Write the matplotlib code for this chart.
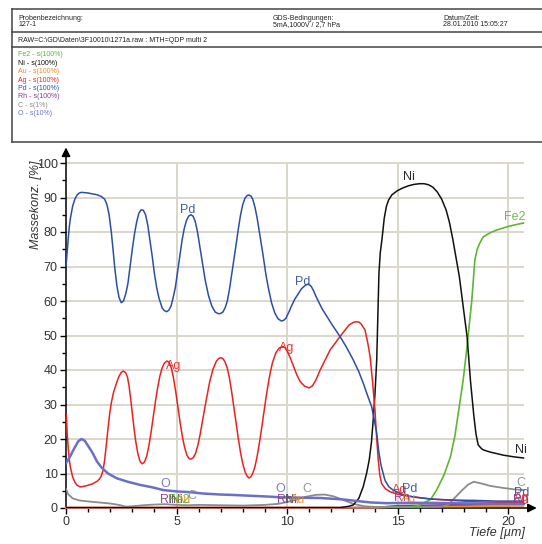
import matplotlib
matplotlib.use("Agg")
import matplotlib.pyplot as plt
from matplotlib.ticker import MultipleLocator

plt.rcParams['font.family'] = ['Liberation Sans', 'DejaVu Sans']

# ---- depth profile data (depth in µm, concentration in %) ----
pd_x = [0.0, 0.05, 0.1, 0.15, 0.2, 0.3, 0.4, 0.5, 0.6, 0.7, 1.0, 1.4, 1.6, 1.75, 1.85, 1.95, 2.05, 2.15,
        2.2, 2.3, 2.4, 2.5, 2.6, 2.7, 2.8, 2.9, 3.0, 3.1, 3.2, 3.3, 3.4, 3.5, 3.6, 3.7, 3.8, 3.9, 4.0,
        4.1, 4.2, 4.35, 4.45, 4.55, 4.65, 4.75, 4.85, 4.95, 5.05, 5.15, 5.25, 5.35, 5.45, 5.55, 5.65,
        5.75, 5.85, 5.95, 6.05, 6.15, 6.3, 6.45, 6.6, 6.75, 6.9, 7.0, 7.1, 7.2, 7.3, 7.4, 7.55, 7.7,
        7.8, 7.9, 8.0, 8.1, 8.2, 8.28, 8.37, 8.45, 8.55, 8.65, 8.75, 8.9, 9.05, 9.15, 9.3, 9.45, 9.6,
        9.75, 9.85, 9.95, 10.1, 10.2, 10.35, 10.5, 10.65, 10.8, 10.9, 11.0, 11.1, 11.2, 11.3, 11.45,
        11.6, 11.8, 12.0, 12.4, 12.7, 13.0, 13.25, 13.45, 13.65, 13.83, 13.95, 14.06, 14.15, 14.25,
        14.43, 14.6, 14.8, 15.2, 15.7, 16.5, 17.5, 18.5, 19.5, 20.7]
pd_y = [70, 74, 78, 81.5, 84, 87.5, 89.5, 90.7, 91.3, 91.5, 91.3, 90.8, 90.3, 89.5, 88, 85, 80, 73.5,
        70, 64.5, 61, 59.5, 60, 62, 65, 70, 75, 79.5, 83, 85.5, 86.4, 86.3, 85, 82, 77.5, 73, 68,
        64, 61, 58, 57.2, 56.9, 57.3, 58.5, 61, 64, 68.5, 73, 77.5, 81, 83.3, 84.6, 85,
        84.6, 83, 80, 76, 72, 66, 61.5, 58.5, 56.8, 56.3, 56.4, 56.8, 58, 60, 63.5, 70, 76.5,
        81, 85, 88, 89.8, 90.6, 90.7, 90.4, 89.5, 87.2, 84, 80, 74, 67.5, 64, 59.5, 56.5, 54.8,
        54.2, 54.4, 55, 57, 58.5, 60.5, 62, 63.5, 64.4, 64.8, 64.8, 64.2, 63, 61.5, 59.5,
        57.6, 55.6, 53.5, 49.7, 46.5, 42.9, 39.5, 36.2, 32.5, 29.4, 25.5, 21.7, 16.5, 12.5,
        8.1, 6.2, 5.2, 4.0, 3.2, 2.6, 2.3, 2.2, 2.0, 2.0]

ag_x = [0.02, 0.05, 0.1, 0.15, 0.2, 0.3, 0.4, 0.5, 0.65, 0.9, 1.2, 1.4, 1.5, 1.6, 1.68, 1.75, 1.82, 1.9,
        1.97, 2.05, 2.15, 2.3, 2.4, 2.5, 2.6, 2.7, 2.78, 2.85, 2.92, 3.0, 3.08, 3.15, 3.25, 3.35, 3.45,
        3.55, 3.65, 3.75, 3.85, 3.95, 4.05, 4.15, 4.25, 4.35, 4.45, 4.57, 4.67, 4.77, 4.87, 4.97, 5.07,
        5.17, 5.27, 5.37, 5.47, 5.57, 5.66, 5.76, 5.86, 5.96, 6.06, 6.2, 6.35, 6.5, 6.65, 6.8, 6.9,
        7.0, 7.1, 7.2, 7.3, 7.4, 7.5, 7.6, 7.7, 7.8, 7.9, 8.0, 8.1, 8.2, 8.28, 8.36, 8.45, 8.55,
        8.65, 8.75, 8.85, 8.95, 9.05, 9.15, 9.25, 9.35, 9.5, 9.65, 9.8, 9.9, 10.0, 10.15, 10.3,
        10.45, 10.6, 10.8, 11.0, 11.15, 11.3, 11.5, 11.95, 12.4, 12.8, 13.0, 13.12, 13.25, 13.35,
        13.53, 13.65, 13.76, 13.88, 13.98, 14.06, 14.13, 14.2, 14.28, 14.45, 14.66, 15.0, 15.4,
        16.5, 17.5, 18.5, 19.5, 20.7]
ag_y = [27, 22, 17.5, 14, 11.8, 9, 7.5, 6.6, 6.1, 6.4, 7.0, 7.7, 8.3, 9.3, 11, 14, 18, 23,
        27, 30.5, 33.5, 36.5, 38.2, 39.3, 39.7, 39.2, 38, 35.5, 32, 27.5, 23, 19.5, 15.8, 13.5, 12.8,
        13.3, 15, 18, 22, 26.5, 31, 35, 38.3, 40.6, 42, 42.6, 42.2, 40.5, 37.5, 33.5, 29,
        24.5, 20.5, 17.5, 15.3, 14.3, 14.2, 14.6, 15.8, 18, 21, 26, 31.5, 36.5, 40.2, 42.5, 43.3,
        43.6, 43.3, 42.3, 40.5, 37.5, 33.5, 29, 24.5, 20, 16, 12.8, 10.5, 9.2, 8.7, 9, 10, 12,
        15, 18.8, 23, 27.5, 32, 36, 39.5, 42.3, 45, 46.4, 46.8, 46.5, 45.6, 43.5, 41,
        38.5, 36.6, 35.3, 34.8, 35.4, 37, 40, 45.8, 49.7, 53, 53.8, 54, 53.9, 53.4,
        51.6, 48, 43.9, 36, 28.4, 20, 13.9, 9.5, 7.1, 5.6, 4.7, 4.0, 3.5,
        2.6, 2.2, 1.8, 1.6, 1.5]

ni_x = [0.0, 12.4, 12.8, 13.0, 13.25, 13.45, 13.6, 13.72, 13.82, 13.9, 13.98, 14.06, 14.12, 14.16,
        14.22, 14.3, 14.4, 14.5, 14.6, 14.75, 15.0, 15.25, 15.5, 15.75, 16.0, 16.2, 16.4, 16.6, 16.8,
        17.0, 17.2, 17.35, 17.5, 17.65, 17.8, 18.0, 18.15, 18.3, 18.45, 18.55, 18.65, 18.8, 18.9,
        19.2, 19.8, 20.3, 20.7]
ni_y = [0.1, 0.1, 0.5, 0.9, 2.8, 6.2, 10, 13.9, 19, 25.5, 33, 42.9, 58, 68,
        74, 78, 84, 87.5, 89.3, 90.8, 92, 92.8, 93.4, 93.8, 94.0, 94.0, 93.7, 93.0, 91.6,
        89.5, 86.4, 82.8, 78, 72.5, 67, 57, 49.6, 37, 27, 21.5, 18.3, 17.2, 16.8,
        16.2, 15.3, 14.8, 14.5]

fe_x = [0.0, 15.5, 16.0, 16.5, 16.77, 17.1, 17.4, 17.6, 17.75, 17.97, 18.13, 18.36, 18.5, 18.6, 18.7,
        18.88, 19.2, 19.5, 20.0, 20.4, 20.7]
fe_y = [0.0, 0.1, 0.8, 2.5, 5.2, 9.5, 14.9, 21, 27.5, 37, 45.8, 60, 71.9, 74.8, 76.5,
        78.6, 79.8, 80.6, 81.6, 82.2, 82.6]

o_x = [0.0, 0.15, 0.35, 0.55, 0.7, 0.85, 1.0, 1.2, 1.4, 1.6, 1.9, 2.3, 2.8, 3.35, 3.9, 4.4, 5.0, 5.6,
       6.2, 7.0, 7.5, 8.5, 9.2, 9.7, 10.5, 11.5, 12.5, 13.2, 13.8, 14.5, 15.5, 16.5, 17.5, 18.5, 19.5, 20.7]
o_y = [13, 14.5, 17, 19.3, 20, 19.5, 18, 16, 13.5, 11.8, 10, 8.6, 7.6, 6.7, 6.0, 5.2, 4.8, 4.6,
       4.2, 3.9, 3.8, 3.5, 3.3, 3.1, 3.0, 2.9, 2.5, 2.0, 1.6, 1.4, 1.5, 1.5, 1.4, 1.3, 1.2, 1.2]

c_x = [0.0, 0.1, 0.3, 0.6, 1.0, 1.5, 2.0, 2.4, 2.7, 3.0, 3.5, 4.0, 4.5, 5.0, 5.5, 6.0, 7.0, 8.0, 9.0,
       9.6, 10.2, 10.8, 11.3, 11.7, 12.1, 12.6, 13.0, 13.5, 14.0, 15.0, 16.0, 17.0, 17.3, 17.6, 17.9,
       18.2, 18.45, 18.8, 19.2, 19.8, 20.3, 20.7]
c_y = [5.5, 4.0, 2.8, 2.2, 1.9, 1.6, 1.3, 0.9, 0.4, 0.5, 0.8, 1.0, 1.1, 0.9, 0.8, 0.9, 0.8, 0.7, 0.9,
       1.2, 2.0, 3.2, 3.8, 3.9, 3.4, 2.2, 1.2, 0.5, 0.3, 0.3, 0.3, 0.4, 1.0, 3.0, 5.0,
       6.8, 7.6, 7.1, 6.4, 5.8, 5.4, 5.2]

rh_x = [0.0, 14.0, 15.0, 17.0, 19.0, 20.7]
rh_y = [0.05, 0.05, 0.6, 0.8, 1.0, 1.2]

au_x = [0.0, 14.0, 15.0, 17.0, 19.0, 20.7]
au_y = [0.1, 0.1, 0.3, 0.4, 0.5, 0.6]

yticks = [0, 10, 20, 30, 40, 50, 60, 70, 80, 90, 100]
xticks = [0, 5, 10, 15, 20]

legend_lines = ["Fe2 - s(100%)", "Ni - s(100%)", "Au - s(100%)", "Ag - s(100%)",
                "Pd - s(100%)", "Rh - s(100%)", "C - s(1%)", "O - s(10%)"]

COL = {
    "Pd": "#2a4fa6", "Ag": "#e8231f", "Ni": "#111111", "Fe2": "#5db634",
    "O": "#6b6fc6", "C": "#8c8c8c", "Rh": "#8a3a8c", "Au": "#f08a24",
}
legend_colors = [COL["Fe2"], COL["Ni"], COL["Au"], COL["Ag"], COL["Pd"], COL["Rh"], COL["C"], COL["O"]]

W, H = 542, 544
fig = plt.figure(figsize=(W / 100, H / 100), dpi=100)


def fx(px):
    return px / W


def fy(py):
    return 1 - py / H


# ---- header block ----
hdr_col = "#444444"
for y in (9, 32, 47, 142):
    fig.add_artist(plt.Line2D([fx(12), fx(542)], [fy(y), fy(y)], color=hdr_col, lw=1.1))
fig.add_artist(plt.Line2D([fx(12), fx(12)], [fy(9), fy(142)], color=hdr_col, lw=1.1))

hfs = 5
fig.text(fx(18), fy(18), "Probenbezeichnung:", fontsize=hfs, color="#222222", va="center")
fig.text(fx(18), fy(25), "127-1", fontsize=hfs, color="#222222", va="center")
fig.text(fx(273), fy(18), "GDS-Bedingungen:", fontsize=hfs, color="#222222", va="center")
fig.text(fx(273), fy(25), "5mA,1000V / 2,7 hPa", fontsize=hfs, color="#222222", va="center")
fig.text(fx(443), fy(18), "Datum/Zeit:", fontsize=hfs, color="#222222", va="center")
fig.text(fx(443), fy(25), "28.01.2010 15:05:27", fontsize=hfs, color="#222222", va="center")
fig.text(fx(18), fy(40), "RAW=C:\\GD\\Daten\\3F10010\\1271a.raw : MTH=QDP multi 2",
         fontsize=hfs, color="#222222", va="center")
for i, (txt, c) in enumerate(zip(legend_lines, legend_colors)):
    fig.text(fx(18), fy(55 + i * 8.4), txt, fontsize=hfs, color=c, va="center")

# ---- plot area ----
x0, x1 = 0.0, 21.3
y0, y1 = 0.0, 104.5
left_px, right_px = 66, 66 + (x1 - x0) * 22.1
bot_px, top_px = 508, 508 - (y1 - y0) * 3.45
ax = fig.add_axes([fx(left_px), fy(bot_px), (right_px - left_px) / W, (bot_px - top_px) / H])
ax.set_xlim(x0, x1)
ax.set_ylim(y0, y1)
ax.patch.set_alpha(0)
for s in ax.spines.values():
    s.set_visible(False)

grid_col = "#d9d6cc"
for y in yticks[1:]:
    ax.plot([0, 20.7], [y, y], color=grid_col, lw=1.4, zorder=0)
for x in xticks[1:]:
    ax.plot([x, x], [0, 100], color=grid_col, lw=1.4, zorder=0)

# axes with arrow heads
ax.annotate("", xy=(1, 0), xytext=(0, 0), xycoords="axes fraction",
            arrowprops=dict(arrowstyle="-|>", color="black", lw=1.1, mutation_scale=13,
                            shrinkA=0, shrinkB=0), zorder=1)
ax.annotate("", xy=(0, 1), xytext=(0, 0), xycoords="axes fraction",
            arrowprops=dict(arrowstyle="-|>", color="black", lw=1.1, mutation_scale=13,
                            shrinkA=0, shrinkB=0), zorder=1)

# curves
ax.plot(rh_x, rh_y, color=COL["Rh"], lw=1.6, zorder=3, clip_on=False)
ax.plot(au_x, au_y, color=COL["Au"], lw=1.2, zorder=3, clip_on=False)
ax.plot(c_x, c_y, color=COL["C"], lw=1.3, zorder=3)
ax.plot(fe_x, fe_y, color=COL["Fe2"], lw=1.2, zorder=4)
ax.plot(ni_x, ni_y, color=COL["Ni"], lw=1.1, zorder=4)
ax.plot(ag_x, ag_y, color=COL["Ag"], lw=1.1, zorder=5)
ax.plot(pd_x, pd_y, color=COL["Pd"], lw=1.1, zorder=5)
ax.plot(o_x, o_y, color=COL["O"], lw=1.8, zorder=6)

# curve labels
lfs = 9
labels = [
    ("Pd", 5.5, 86.3, COL["Pd"]), ("Pd", 10.7, 65.5, COL["Pd"]),
    ("Ag", 4.85, 41.3, COL["Ag"]), ("Ag", 10.0, 46.3, COL["Ag"]),
    ("Ni", 15.5, 95.8, COL["Ni"]), ("Ni", 20.6, 16.7, COL["Ni"]),
    ("Fe2", 20.3, 84.3, COL["Fe2"]),
    ("O", 4.5, 7.0, COL["O"]), ("O", 9.7, 5.6, COL["O"]),
    ("C", 10.9, 5.6, COL["C"]), ("C", 20.6, 7.3, COL["C"]),
    ("Rh", 4.6, 2.4, COL["Rh"]), ("Ni", 5.0, 2.3, "#555555"), ("Au", 5.3, 2.3, COL["Au"]),
    ("Fe2", 5.1, 2.4, COL["Fe2"]), ("C", 5.7, 3.4, COL["C"]),
    ("Rh", 9.9, 2.3, COL["Rh"]), ("Ni", 10.2, 2.3, "#555555"), ("Au", 10.5, 2.3, COL["Au"]),
    ("Ag", 15.1, 5.3, COL["Ag"]), ("Pd", 15.55, 5.6, COL["Pd"]),
    ("Rh", 15.2, 2.9, COL["Rh"]), ("Au", 15.5, 2.7, COL["Au"]),
    ("Pd", 20.6, 4.3, COL["Pd"]), ("Ag", 20.6, 2.9, COL["Ag"]), ("Rh", 20.6, 2.2, COL["Rh"]),
]
for txt, lx, ly, c in labels:
    ax.text(lx, ly, txt, fontsize=lfs, color=c, ha="center", va="center", zorder=7, alpha=0.9)

# ticks
ax.set_xticks(xticks)
ax.set_yticks(yticks)
ax.tick_params(axis="both", which="major", direction="out", length=4, width=1, color="black",
               labelsize=9, labelcolor="#333333", pad=2)
ax.tick_params(axis="both", which="minor", direction="out", length=3, width=1, color="black")
ax.set_xticks([t for t in range(0, 21)], minor=True)
ax.set_yticks([t for t in range(5, 100, 10)], minor=True)

fig.text(fx(36), fy(205), "Massekonz. [%]", rotation=90, fontsize=9, style="italic",
         color="#333333", ha="center", va="center")
fig.text(fx(525), fy(533), "Tiefe [µm]", fontsize=9, style="italic", color="#333333",
         ha="right", va="center")

fig.savefig("out.png", dpi=100)
